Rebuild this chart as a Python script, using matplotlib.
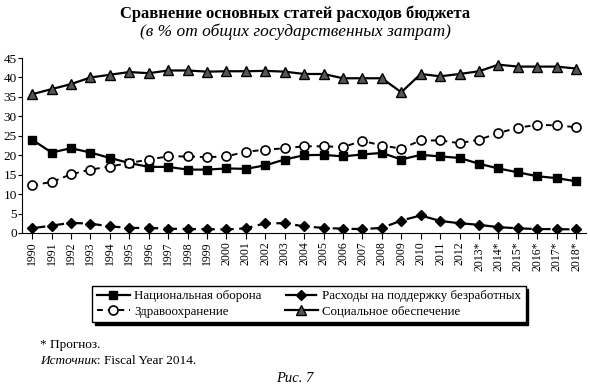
import matplotlib.pyplot as plt
import numpy as np

plt.rcParams['font.family'] = ['Liberation Serif', 'DejaVu Serif']

years = [str(y) for y in range(1990, 2013)] + [str(y) + '*' for y in range(2013, 2019)]

defense = [24.0, 20.7, 21.8, 20.7, 19.3, 18.0, 17.0, 17.0, 16.3, 16.3, 16.6, 16.5, 17.4, 18.9,
           20.0, 20.1, 19.7, 20.2, 20.6, 18.9, 20.1, 19.7, 19.3, 17.8, 16.6, 15.6, 14.6, 14.1, 13.3]
unemployment = [1.2, 1.9, 2.6, 2.4, 1.7, 1.3, 1.3, 1.1, 1.0, 1.0, 0.9, 1.2, 2.5, 2.5,
                1.7, 1.3, 1.1, 1.0, 1.3, 3.2, 4.5, 3.1, 2.5, 2.1, 1.5, 1.2, 1.0, 1.0, 0.9]
health = [12.3, 13.1, 15.1, 16.3, 17.1, 18.0, 18.9, 19.7, 19.7, 19.5, 19.7, 20.9, 21.4, 21.8,
          22.3, 22.3, 22.1, 23.7, 22.5, 21.7, 23.8, 23.8, 23.1, 24.0, 25.7, 27.1, 27.8, 27.7, 27.2]
social = [35.7, 37.0, 38.3, 40.0, 40.7, 41.4, 41.1, 41.8, 41.8, 41.5, 41.6, 41.6, 41.7, 41.5,
          40.9, 40.9, 39.8, 39.8, 39.8, 36.2, 40.9, 40.3, 40.9, 41.6, 43.3, 42.8, 42.8, 42.8, 42.3]

x = np.arange(len(years))

fig = plt.figure(figsize=(5.9, 3.87), dpi=100)
ax = fig.add_axes([0.038, 0.398, 0.955, 0.452])

l1, = ax.plot(x, defense, '-', color='black', lw=1.6, marker='s', ms=6, mfc='black')
l2, = ax.plot(x, unemployment, color='black', lw=1.6, dashes=(6, 2.5), marker='D', ms=5.5, mfc='black')
l3, = ax.plot(x, health, color='black', lw=1.4, dashes=(3, 2.5), marker='o', ms=6.5,
              mfc='white', mec='black', mew=1.2)
l4, = ax.plot(x, social, '-', color='black', lw=1.6, marker='^', ms=6.5, mfc='#555555', mec='black')

ax.set_xlim(-0.5, len(years) - 0.5)
ax.set_ylim(0, 45)
ax.set_yticks(range(0, 46, 5))
ax.set_xticks(x)
ax.set_xticklabels(years, rotation=90, fontsize=8.5)
ax.tick_params(axis='y', labelsize=9.5, pad=1, length=3)
ax.tick_params(axis='x', pad=2, length=4)
ax.spines['top'].set_visible(False)
ax.spines['right'].set_visible(False)

leg = fig.legend([l1, l3, l2, l4],
                 ['Национальная оборона', 'Здравоохранение',
                  'Расходы на поддержку безработных', 'Социальное обеспечение'],
                 ncol=2, loc='upper left', bbox_to_anchor=(0.145, 0.278),
                 fontsize=9.3, frameon=True, fancybox=False, edgecolor='black',
                 shadow={'color': 'black', 'alpha': 1}, handlelength=2.6,
                 borderpad=0.35, labelspacing=0.25, columnspacing=1.8, handletextpad=0.3)
leg.get_frame().set_linewidth(1.0)

fig.text(0.5, 0.965, 'Сравнение основных статей расходов бюджета', ha='center', va='center',
         fontsize=12, fontweight='bold')
fig.text(0.5, 0.918, '(в % от общих государственных затрат)', ha='center', va='center',
         fontsize=12.5, style='italic')
fig.text(0.068, 0.108, '* Прогноз.', fontsize=9.5, va='center')
src = fig.text(0.068, 0.068, 'Источник', fontsize=9.5, va='center', style='italic')
ax.annotate(': Fiscal Year 2014.', xy=(1, 0.5), xycoords=src, fontsize=9.5,
            va='center', ha='left', annotation_clip=False)
fig.text(0.5, 0.022, 'Рис. 7', fontsize=10.5, va='center', ha='center', style='italic')

fig.savefig('out.png', dpi=100)
